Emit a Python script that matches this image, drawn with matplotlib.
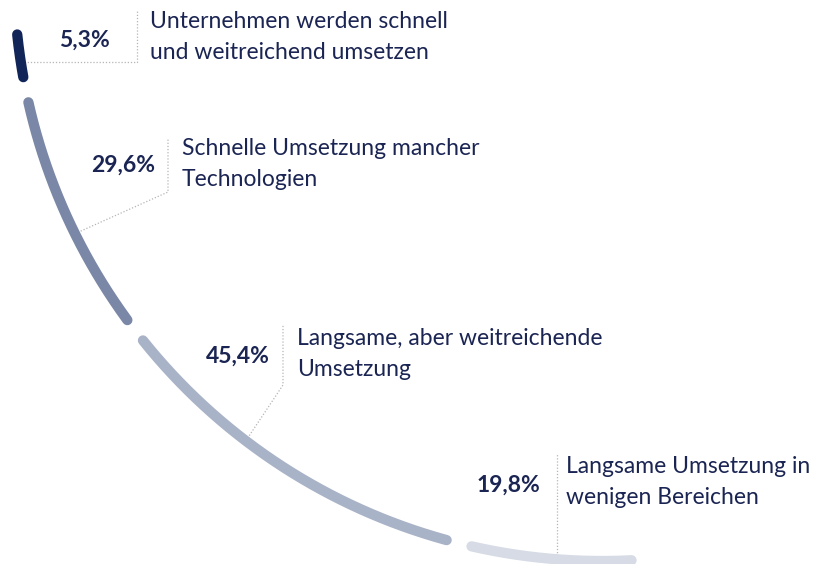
import numpy as np
import matplotlib.pyplot as plt

# Data ----------------------------------------------------------------------------------------------
values       = [5.3, 29.6, 45.4, 19.8]
pct_labels   = ["5,3%", "29,6%", "45,4%", "19,8%"]
descriptions = ["Unternehmen werden schnell\nund weitreichend umsetzen",
                "Schnelle Umsetzung mancher\nTechnologien",
                "Langsame, aber weitreichende\nUmsetzung",
                "Langsame Umsetzung in\nwenigen Bereichen"]
colors       = ["#112558", "#7b87a6", "#a9b3c7", "#d6dbe5"]

# Layout (pixel space, y pointing down) ------------------------------------------------------------
cx, cy, R   = 602, -27, 588          # centre and radius of the arc
start_deg   = 174.0                  # top end of the arc
deg_per_pct = 0.793                  # angle per percentage point
gap_deg     = 2.5                    # gap between segments
attach_frac = [0.64, 0.58, 0.39, 0.54]  # where the leader touches each segment
text_col    = "#1b2553"
leader_col  = "#b5b5b5"

fig = plt.figure(figsize=(8.24, 5.64), dpi=100)
ax = fig.add_axes([0, 0, 1, 1])
ax.set_xlim(0, 824)
ax.set_ylim(564, 0)
ax.axis('off')

def arc_point(deg):
    a = np.radians(deg)
    return cx + R*np.cos(a), cy + R*np.sin(a)

attach = []
a0 = start_deg
for v, c, f in zip(values, colors, attach_frac):
    a1 = a0 - v*deg_per_pct
    ang = np.linspace(a0, a1, 200)
    xs, ys = arc_point(ang)
    ax.plot(xs, ys, color=c, lw=7.4, solid_capstyle='round', zorder=3)
    attach.append(arc_point(a0 + (a1 - a0)*f))
    a0 = a1 - gap_deg

# leader lines: attach point -> corner -> top
dots = dict(color=leader_col, lw=0.9, ls=(0, (1, 1.5)), zorder=1)
px, py = attach[0]
ax.plot([px, 137, 137], [py, py, 10], **dots)
px, py = attach[1]
ax.plot([px, 168, 168], [py, 192, 138], **dots)
px, py = attach[2]
ax.plot([px, 283, 283], [py, 385, 325], **dots)
px, py = attach[3]
ax.plot([px, px], [py, 453], **dots)

# labels
pct_pos  = [(110, 40), (155, 165), (270, 356), (540, 485)]
desc_pos = [(150, 37), (182, 164), (297, 354), (566, 482)]
for lab, (x, y) in zip(pct_labels, pct_pos):
    ax.text(x, y, lab, ha='right', va='center', fontsize=16.5, fontweight='bold',
            color=text_col, family='Lato')
for d, (x, y) in zip(descriptions, desc_pos):
    ax.text(x, y, d, ha='left', va='center', fontsize=16.5, color=text_col,
            family='Lato', linespacing=1.55)

fig.savefig('out.png', dpi=100, facecolor='white')
